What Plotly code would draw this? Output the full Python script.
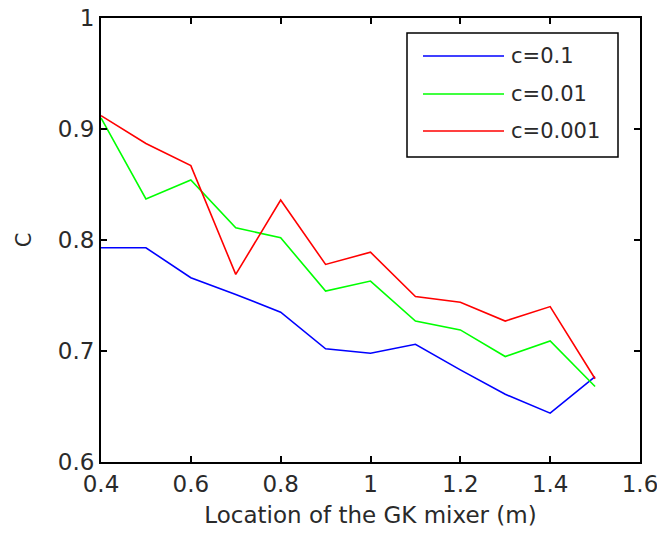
import plotly.graph_objects as go

x = [0.4, 0.5, 0.6, 0.7, 0.8, 0.9, 1.0, 1.1, 1.2, 1.3, 1.4, 1.5]
c_01 = [0.793, 0.793, 0.766, 0.751, 0.735, 0.702, 0.698, 0.706, 0.683, 0.661, 0.644, 0.677]
c_001 = [0.910, 0.837, 0.854, 0.811, 0.802, 0.754, 0.763, 0.727, 0.719, 0.695, 0.709, 0.668]
c_0001 = [0.912, 0.887, 0.867, 0.769, 0.836, 0.778, 0.789, 0.749, 0.744, 0.727, 0.740, 0.675]
names = ["c=0.1", "c=0.01", "c=0.001"]
colors = ["#0000FF", "#00FF00", "#FF0000"]
xticks = [0.4, 0.6, 0.8, 1.0, 1.2, 1.4, 1.6]
xticklabels = ["0.4", "0.6", "0.8", "1", "1.2", "1.4", "1.6"]
yticks = [0.6, 0.7, 0.8, 0.9, 1.0]
yticklabels = ["0.6", "0.7", "0.8", "0.9", "1"]

W, H = 657, 536
ML, MR, MT, MB = 101, 17, 18, 74
PW, PH = W - ML - MR, H - MT - MB


def px(xp):
    return (xp - ML) / PW


def py(yp):
    return (H - MB - yp) / PH


fig = go.Figure()
for ys, n, c in zip([c_01, c_001, c_0001], names, colors):
    fig.add_trace(go.Scatter(x=x, y=ys, mode="lines", name=n,
                             line=dict(color=c, width=1.6), showlegend=False))

font = "DejaVu Sans, Verdana, sans-serif"
txtcol = "#2a2a2a"
axis_common = dict(showgrid=False, zeroline=False, showline=True, linecolor="#000",
                   linewidth=2, mirror="ticks", ticks="inside", ticklen=6,
                   tickwidth=1.5, tickcolor="#000", automargin=False,
                   ticklabeloverflow="allow",
                   tickfont=dict(family=font, size=23, color=txtcol))

# custom legend box
shapes = [dict(type="rect", xref="paper", yref="paper",
               x0=px(407), x1=px(618), y0=py(157), y1=py(33),
               line=dict(color="#000", width=1.5), fillcolor="white", layer="above")]
annotations = []
row_y = [56, 94, 131]
for n, c, ry in zip(names, colors, row_y):
    shapes.append(dict(type="line", xref="paper", yref="paper",
                       x0=px(423), x1=px(504), y0=py(ry), y1=py(ry),
                       line=dict(color=c, width=1.6), layer="above"))
    annotations.append(dict(xref="paper", yref="paper", x=px(509), y=py(ry),
                            xanchor="left", yanchor="middle", text=n, showarrow=False,
                            font=dict(family=font, size=21, color=txtcol)))

fig.update_layout(
    width=W, height=H,
    margin=dict(l=ML, r=MR, t=MT, b=MB),
    paper_bgcolor="white", plot_bgcolor="white",
    xaxis=dict(range=[0.4, 1.6], tickvals=xticks, ticktext=xticklabels,
               title=dict(text="Location of the GK mixer (m)",
                          font=dict(family=font, size=23, color=txtcol), standoff=11),
               **axis_common),
    yaxis=dict(range=[0.6, 1.0], tickvals=yticks, ticktext=yticklabels,
               title=dict(text="C", font=dict(family=font, size=21, color=txtcol), standoff=20),
               **axis_common),
    shapes=shapes, annotations=annotations,
    showlegend=False,
)
fig.write_html("out.html", config={"displayModeBar": False},
               post_script="document.body.style.margin='0';document.body.style.overflow='hidden';")
